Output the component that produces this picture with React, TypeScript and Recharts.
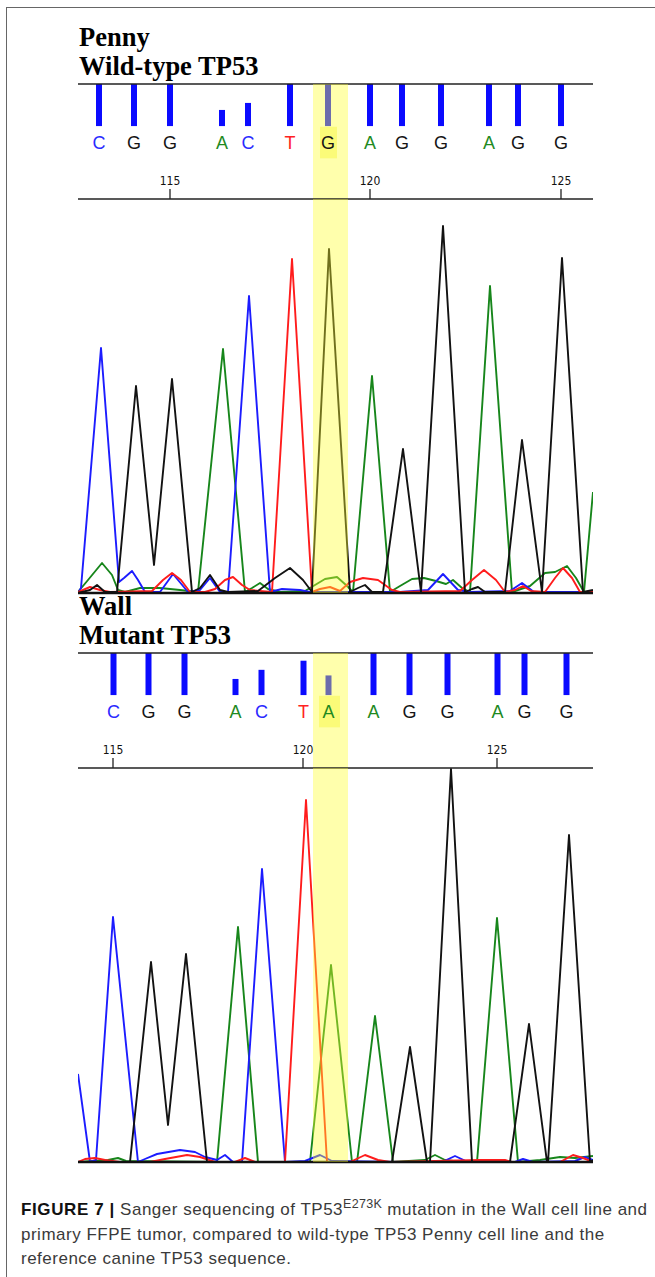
import React from 'react'
import { BarChart, Bar, LabelList, LineChart, Line, XAxis, YAxis, ReferenceArea } from 'recharts'

// [scan, signal] pairs
type Pt = [number, number]

// ---- Penny (wild-type) ----
const pennyBases = ['C', 'G', 'G', 'A', 'C', 'T', 'G', 'A', 'G', 'G', 'A', 'G', 'G']
const pennyBaseScan = [21, 56, 92, 144, 170, 212, 250, 292, 324, 363, 411, 440, 483]
const pennyBaseNumber = [113, 114, 115, 116, 117, 118, 119, 120, 121, 122, 123, 124, 125]
const pennyQuality = [60, 60, 60, 23, 33, 60, 60, 60, 60, 60, 60, 60, 60]

const pennyA: Pt[] = [
  [0, 1], [10, 13], [24, 30], [34, 18], [40, 3], [47, 1], [62, 5], [82, 5], [102, 3], [120, 1],
  [145, 244], [167, 1], [174, 5], [182, 10], [190, 4], [202, 1], [227, 2], [237, 8], [247, 14],
  [259, 16], [268, 8], [275, 1], [294, 217], [312, 1], [322, 7], [334, 14], [346, 15], [358, 12],
  [368, 9], [375, 13], [384, 5], [392, 1], [412, 307], [434, 1], [452, 7], [467, 20], [477, 21],
  [489, 27], [498, 15], [506, 1], [515, 101],
]
const pennyC: Pt[] = [
  [0, 0], [3, 5], [23, 245], [41, 11], [46, 15], [54, 22], [60, 13], [67, 1], [82, 1], [95, 19],
  [110, 1], [122, 3], [132, 15], [142, 1], [150, 1], [171, 297], [192, 1], [204, 4], [222, 3],
  [232, 1], [322, 1], [350, 3], [365, 19], [380, 3], [392, 1], [432, 2], [444, 10], [456, 1], [515, 1],
]
const pennyG: Pt[] = [
  [0, 0], [12, 3], [19, 8], [27, 1], [39, 1], [58, 207], [76, 28], [94, 214], [114, 1], [122, 5],
  [132, 18], [142, 3], [150, 1], [180, 2], [197, 15], [212, 25], [225, 13], [234, 1], [251, 344],
  [272, 1], [280, 5], [287, 8], [294, 1], [305, 1], [325, 144], [343, 1], [365, 367], [387, 1],
  [394, 4], [400, 6], [407, 1], [427, 1], [444, 153], [464, 1], [484, 335], [505, 1], [515, 3],
]
const pennyT: Pt[] = [
  [0, 1], [12, 6], [22, 3], [32, 1], [74, 2], [85, 13], [94, 20], [103, 13], [112, 1], [127, 1],
  [137, 4], [147, 13], [155, 16], [164, 8], [172, 3], [194, 1], [214, 334], [234, 1], [242, 4],
  [252, 6], [262, 2], [272, 11], [285, 15], [300, 13], [314, 3], [322, 1], [382, 2], [394, 13],
  [406, 23], [418, 13], [427, 1], [437, 3], [445, 7], [453, 2], [467, 1], [477, 15], [485, 25],
  [494, 15], [502, 1], [515, 1],
]

// ---- Wall (mutant) ----
const wallBases = ['C', 'G', 'G', 'A', 'C', 'T', 'A', 'A', 'G', 'G', 'A', 'G', 'G']
const wallBaseScan = [35, 70, 106, 157, 183, 225, 250, 295, 331, 369, 419, 446, 488]
const wallBaseNumber = [115, 116, 117, 118, 119, 120, 121, 122, 123, 124, 125, 126, 127]
const wallQuality = [60, 60, 60, 23, 36, 49, 28, 60, 60, 60, 60, 60, 60]

const wallA: Pt[] = [
  [0, 0], [30, 2], [40, 4], [48, 1], [139, 0], [160, 235], [180, 0], [232, 0], [253, 197], [274, 0],
  [279, 0], [297, 146], [315, 0], [347, 2], [357, 7], [367, 2], [384, 0], [399, 0], [419, 244],
  [440, 0], [462, 2], [482, 5], [497, 4], [515, 6],
]
const wallC: Pt[] = [
  [0, 88], [12, 0], [18, 2], [35, 245], [60, 0], [67, 3], [79, 8], [102, 12], [117, 10], [127, 5],
  [139, 2], [147, 7], [155, 0], [164, 0], [184, 293], [207, 0], [227, 1], [242, 7], [254, 1],
  [322, 0], [364, 0], [377, 6], [390, 0], [437, 0], [445, 3], [455, 0], [497, 1], [507, 5], [515, 2],
]
const wallG: Pt[] = [
  [0, 0], [52, 0], [73, 200], [90, 37], [108, 208], [129, 0], [314, 0], [332, 115], [349, 0],
  [352, 0], [373, 393], [394, 0], [432, 0], [451, 138], [469, 0], [470, 0], [491, 327], [512, 0], [515, 2],
]
const wallT: Pt[] = [
  [0, 0], [7, 3], [17, 4], [27, 2], [42, 0], [72, 0], [87, 3], [109, 7], [122, 5], [137, 0],
  [157, 0], [167, 4], [177, 0], [207, 0], [228, 362], [249, 0], [272, 0], [287, 7], [300, 2],
  [312, 0], [402, 2], [427, 2], [434, 0], [482, 0], [495, 7], [505, 4], [515, 0],
]

// highlighted base (scan range) in both runs
const highlightScan: [number, number] = [235, 270]

const W = 515
const SCAN_DOMAIN: [number, number] = [0, 515]
const SIGNAL_MAX = 394
const Q_DOMAIN: [number, number] = [-104, 60]

const BASE_COLOR: Record<string, string> = { A: '#1f8a1f', C: '#2a2aff', G: '#151515', T: '#ff2222' }
const TRACE_COLOR: Record<string, string> = { A: '#17861b', C: '#1c1cff', G: '#121212', T: '#ff1c1c' }
const SANS = "'Liberation Sans', Arial, sans-serif"

function BaseLetter(props: any) {
  const vb = props.viewBox ?? props
  const x = Number(vb.x) + Number(vb.width) / 2
  const y = Number(vb.y) + Number(vb.height) + 23
  return (
    <text x={x} y={y} textAnchor="middle" fontSize={18} fontFamily={SANS} fill={BASE_COLOR[props.value] ?? '#000'}>
      {props.value}
    </text>
  )
}

interface PanelProps {
  top: number
  name: string
  label: string
  bases: string[]
  scans: number[]
  numbers: number[]
  quality: number[]
  traces: Record<string, Pt[]>
  box: [number, number]
}

function Panel({ top, name, label, bases, scans, numbers, quality, traces, box }: PanelProps) {
  const seq = bases.map((b, i) => ({ scan: scans[i], q: quality[i], base: b }))
  const ruler = numbers.map((n, i) => ({ n, scan: scans[i] })).filter((r) => r.n % 5 === 0)
  const labelAt = (v: number) => String(ruler.find((r) => r.scan === v)?.n ?? '')

  return (
    <>
      <div
        style={{
          position: 'absolute', left: 79, top: top - 61.5,
          fontFamily: "'Liberation Serif', 'Times New Roman', serif", fontWeight: 700,
          fontSize: 26.5, lineHeight: '29.5px', color: '#000', whiteSpace: 'nowrap',
        }}
      >
        <div>{name}</div>
        <div>{label}</div>
      </div>

      {/* quality bars + base calls */}
      <div style={{ position: 'absolute', left: 78, top: top - 1, width: W, height: 116 }}>
        <BarChart width={W} height={116} data={seq} margin={{ top: 0, right: 0, bottom: 0, left: 0 }}>
          <XAxis
            xAxisId="seq" orientation="top" type="number" dataKey="scan" domain={SCAN_DOMAIN}
            height={1} tick={false} tickLine={false} axisLine={{ stroke: '#222', strokeWidth: 1.5 }}
          />
          <YAxis hide domain={Q_DOMAIN} allowDataOverflow />
          <Bar xAxisId="seq" dataKey="q" barSize={6} fill="#0b0bff" isAnimationActive={false}>
            <LabelList dataKey="base" content={BaseLetter} />
          </Bar>
          <ReferenceArea
            xAxisId="seq" x1={highlightScan[0]} x2={highlightScan[1]}
            fill="#ffff30" fillOpacity={0.4} stroke="none" zIndex={1500}
          />
          <ReferenceArea
            xAxisId="seq" x1={box[0]} x2={box[1]} y1={-46} y2={-1}
            fill="#f2f200" fillOpacity={0.3} stroke="none" zIndex={1600}
          />
        </BarChart>
      </div>

      {/* ruler + traces */}
      <div style={{ position: 'absolute', left: 78, top: top + 76, width: W, height: 436 }}>
        <LineChart width={W} height={436} margin={{ top: 0, right: 0, bottom: 0, left: 0 }}>
          <XAxis
            xAxisId="ruler" orientation="top" type="number" dataKey="scan" domain={SCAN_DOMAIN}
            allowDataOverflow ticks={ruler.map((r) => r.scan)} tickFormatter={labelAt} interval={0}
            height={39} tickSize={10} tickMargin={4}
            tickLine={{ stroke: '#222', strokeWidth: 1.3 }} axisLine={{ stroke: '#222', strokeWidth: 1.5 }}
            tick={{ fontSize: 12, fill: '#111', fontFamily: "'Liberation Sans Narrow', 'DejaVu Sans Condensed', Arial" }}
          />
          <XAxis
            xAxisId="base" orientation="bottom" type="number" dataKey="scan" domain={SCAN_DOMAIN}
            allowDataOverflow height={3} tick={false} tickLine={false} axisLine={{ stroke: '#111', strokeWidth: 2.5 }}
          />
          <YAxis hide domain={[0, SIGNAL_MAX]} allowDataOverflow />
          {['A', 'C', 'T', 'G'].map((ch) => (
            <Line
              key={ch} xAxisId="ruler" data={traces[ch].map(([scan, signal]) => ({ scan, signal }))}
              dataKey="signal" type="linear" stroke={TRACE_COLOR[ch]} strokeWidth={1.9}
              strokeLinejoin="round" dot={false} activeDot={false} isAnimationActive={false}
            />
          ))}
          <ReferenceArea
            xAxisId="ruler" x1={highlightScan[0]} x2={highlightScan[1]}
            fill="#ffff30" fillOpacity={0.4} stroke="none" zIndex={1500}
          />
        </LineChart>
      </div>
    </>
  )
}

export default function App() {
  return (
    <div style={{ position: 'absolute', left: 0, top: 0, width: 655, height: 1277, overflow: 'hidden', background: '#fff' }}>
      <div
        style={{
          position: 'absolute', left: 6, top: 7, width: 700, height: 1300,
          borderTop: '1.5px solid #666', borderLeft: '1.5px solid #666',
        }}
      />
      <Panel
        top={84} name="Penny" label="Wild-type TP53" bases={pennyBases} scans={pennyBaseScan}
        numbers={pennyBaseNumber} quality={pennyQuality}
        traces={{ A: pennyA, C: pennyC, G: pennyG, T: pennyT }} box={[242, 259]}
      />
      <Panel
        top={653} name="Wall" label="Mutant TP53" bases={wallBases} scans={wallBaseScan}
        numbers={wallBaseNumber} quality={wallQuality}
        traces={{ A: wallA, C: wallC, G: wallG, T: wallT }} box={[241, 262]}
      />
      <div
        style={{
          position: 'absolute', left: 21, top: 1198, fontFamily: SANS, fontSize: 17,
          letterSpacing: '0.5px', lineHeight: '24.5px', color: '#3a3a3a', whiteSpace: 'nowrap',
        }}
      >
        <div>
          <b style={{ color: '#111', letterSpacing: '0.6px' }}>FIGURE 7 |</b> Sanger sequencing of TP53
          <span style={{ fontSize: 12.5, letterSpacing: '0.3px', position: 'relative', top: -7, lineHeight: 0 }}>E273K</span> mutation in the Wall cell line and
        </div>
        <div>primary FFPE tumor, compared to wild-type TP53 Penny cell line and the</div>
        <div>reference canine TP53 sequence.</div>
      </div>
    </div>
  )
}
